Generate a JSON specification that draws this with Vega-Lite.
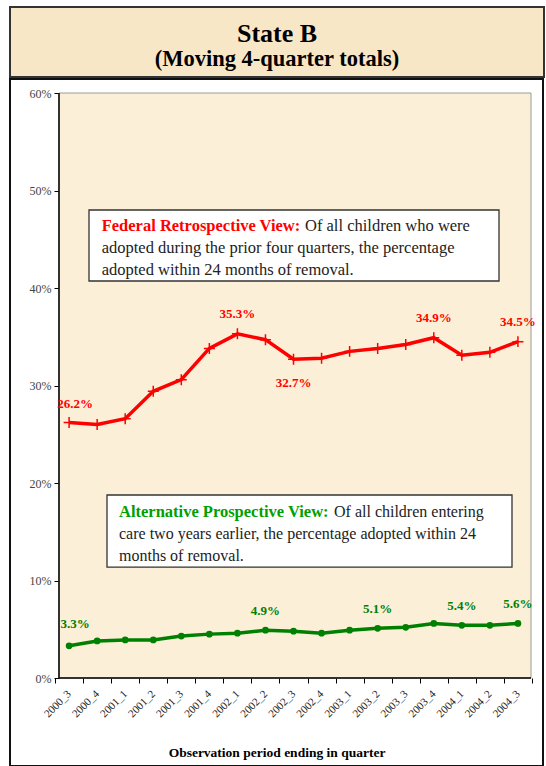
{
  "$schema": "https://vega.github.io/schema/vega-lite/v6.json",
  "background": "white",
  "padding": {"left": 4, "top": 6, "right": 0, "bottom": 0},
  "spacing": 0,
  "config": {"view": {"stroke": null}, "font": "Liberation Serif", "concat": {"spacing": 0}},
  "datasets": {
    "series": [
      {"q": "2000_3", "federal": 0.262, "alternative": 0.033},
      {"q": "2000_4", "federal": 0.260, "alternative": 0.038},
      {"q": "2001_1", "federal": 0.266, "alternative": 0.039},
      {"q": "2001_2", "federal": 0.294, "alternative": 0.039},
      {"q": "2001_3", "federal": 0.306, "alternative": 0.043},
      {"q": "2001_4", "federal": 0.338, "alternative": 0.045},
      {"q": "2002_1", "federal": 0.353, "alternative": 0.046},
      {"q": "2002_2", "federal": 0.347, "alternative": 0.049},
      {"q": "2002_3", "federal": 0.327, "alternative": 0.048},
      {"q": "2002_4", "federal": 0.328, "alternative": 0.046},
      {"q": "2003_1", "federal": 0.335, "alternative": 0.049},
      {"q": "2003_2", "federal": 0.338, "alternative": 0.051},
      {"q": "2003_3", "federal": 0.342, "alternative": 0.052},
      {"q": "2003_4", "federal": 0.349, "alternative": 0.056},
      {"q": "2004_1", "federal": 0.331, "alternative": 0.054},
      {"q": "2004_2", "federal": 0.334, "alternative": 0.054},
      {"q": "2004_3", "federal": 0.345, "alternative": 0.056}
    ]
  },
  "vconcat": [
    {
      "width": 534,
      "height": 70,
      "view": {"fill": "#F8E7C6", "stroke": "#333333", "strokeWidth": 2},
      "data": {"values": [{"title": "State B", "subtitle": "(Moving 4-quarter totals)"}]},
      "layer": [
        {
          "mark": {"type": "text", "font": "Liberation Serif", "fontSize": 26, "fontWeight": "bold", "baseline": "alphabetic", "dy": 0, "color": "#000000"},
          "encoding": {"text": {"field": "title"}}
        },
        {
          "mark": {"type": "text", "font": "Liberation Serif", "fontSize": 22.5, "fontWeight": "bold", "baseline": "alphabetic", "dy": 24, "color": "#000000"},
          "encoding": {"text": {"field": "subtitle"}}
        }
      ]
    },
    {
      "width": 533,
      "height": 687,
      "view": {"fill": "white", "stroke": "#111111", "strokeWidth": 2},
      "resolve": {"scale": {"x": "independent"}, "axis": {"x": "independent"}},
      "layer": [
        {
          "data": {"values": [{}]},
          "layer": [
            {
              "mark": {"type": "rect", "fill": "#FBEFD8", "stroke": "#9A9A9A", "strokeWidth": 1},
              "encoding": {
                "x": {"datum": -0.5, "type": "quantitative", "scale": {"domain": [-2.26483, 16.9322], "nice": false, "zero": false}, "axis": null},
                "x2": {"datum": 16.5},
                "y": {"datum": 0, "type": "quantitative", "scale": {"domain": [-0.090256, 0.614359], "nice": false, "zero": false}},
                "y2": {"datum": 0.6}
              }
            },
            {
              "mark": {"type": "rule", "color": "#000000", "strokeWidth": 1.5},
              "encoding": {
                "x": {"datum": -0.5, "type": "quantitative", "scale": {"domain": [-2.26483, 16.9322], "nice": false, "zero": false}, "axis": null},
                "y": {"datum": 0, "type": "quantitative", "scale": {"domain": [-0.090256, 0.614359], "nice": false, "zero": false}},
                "y2": {"datum": 0.6}
              }
            },
            {
              "mark": {"type": "rule", "color": "#000000", "strokeWidth": 1.5},
              "encoding": {
                "x": {"datum": -0.5, "type": "quantitative", "scale": {"domain": [-2.26483, 16.9322], "nice": false, "zero": false}, "axis": null},
                "x2": {"datum": 16.5},
                "y": {"datum": 0, "type": "quantitative", "scale": {"domain": [-0.090256, 0.614359], "nice": false, "zero": false}}
              }
            },
            {
              "mark": {"type": "rect", "fill": "white", "stroke": "#333333", "strokeWidth": 1.3},
              "encoding": {
                "x": {"datum": 0.5805, "type": "quantitative", "scale": {"domain": [-2.26483, 16.9322], "nice": false, "zero": false}, "axis": null},
                "x2": {"datum": 15.3475},
                "y": {"datum": 0.4072, "type": "quantitative", "scale": {"domain": [-0.090256, 0.614359], "nice": false, "zero": false}},
                "y2": {"datum": 0.48}
              }
            },
            {
              "mark": {"type": "rect", "fill": "white", "stroke": "#333333", "strokeWidth": 1.3},
              "encoding": {
                "x": {"datum": 1.2288, "type": "quantitative", "scale": {"domain": [-2.26483, 16.9322], "nice": false, "zero": false}, "axis": null},
                "x2": {"datum": 15.8157},
                "y": {"datum": 0.1138, "type": "quantitative", "scale": {"domain": [-0.090256, 0.614359], "nice": false, "zero": false}},
                "y2": {"datum": 0.1877}
              }
            },
            {
              "mark": {"type": "text", "align": "left", "baseline": "alphabetic", "font": "Liberation Serif", "fontSize": 16.5, "fontWeight": "bold", "color": "#FF0000"},
              "encoding": {
                "x": {"datum": 1.0379, "type": "quantitative", "scale": {"domain": [-2.26483, 16.9322], "nice": false, "zero": false}, "axis": null},
                "y": {"datum": 0.4588, "type": "quantitative", "scale": {"domain": [-0.090256, 0.614359], "nice": false, "zero": false}},
                "text": {"value": "Federal Retrospective View:"}
              }
            },
            {
              "mark": {"type": "text", "align": "left", "baseline": "alphabetic", "font": "Liberation Serif", "fontSize": 16.5, "color": "#222222"},
              "encoding": {
                "x": {"datum": 8.3602, "type": "quantitative", "scale": {"domain": [-2.26483, 16.9322], "nice": false, "zero": false}, "axis": null},
                "y": {"datum": 0.4588, "type": "quantitative", "scale": {"domain": [-0.090256, 0.614359], "nice": false, "zero": false}},
                "text": {"value": "Of all children who were"}
              }
            },
            {
              "mark": {"type": "text", "align": "left", "baseline": "alphabetic", "font": "Liberation Serif", "fontSize": 16.5, "color": "#222222"},
              "encoding": {
                "x": {"datum": 1.0379, "type": "quantitative", "scale": {"domain": [-2.26483, 16.9322], "nice": false, "zero": false}, "axis": null},
                "y": {"datum": 0.4356, "type": "quantitative", "scale": {"domain": [-0.090256, 0.614359], "nice": false, "zero": false}},
                "text": {"value": "adopted during the prior four quarters, the percentage"}
              }
            },
            {
              "mark": {"type": "text", "align": "left", "baseline": "alphabetic", "font": "Liberation Serif", "fontSize": 16.5, "color": "#222222"},
              "encoding": {
                "x": {"datum": 1.0379, "type": "quantitative", "scale": {"domain": [-2.26483, 16.9322], "nice": false, "zero": false}, "axis": null},
                "y": {"datum": 0.4133, "type": "quantitative", "scale": {"domain": [-0.090256, 0.614359], "nice": false, "zero": false}},
                "text": {"value": "adopted within 24 months of removal."}
              }
            },
            {
              "mark": {"type": "text", "align": "left", "baseline": "alphabetic", "font": "Liberation Serif", "fontSize": 16.5, "fontWeight": "bold", "color": "#00A000"},
              "encoding": {
                "x": {"datum": 1.661, "type": "quantitative", "scale": {"domain": [-2.26483, 16.9322], "nice": false, "zero": false}, "axis": null},
                "y": {"datum": 0.1648, "type": "quantitative", "scale": {"domain": [-0.090256, 0.614359], "nice": false, "zero": false}},
                "text": {"value": "Alternative Prospective View:"}
              }
            },
            {
              "mark": {"type": "text", "align": "left", "baseline": "alphabetic", "font": "Liberation Serif", "fontSize": 16, "color": "#222222"},
              "encoding": {
                "x": {"datum": 9.4047, "type": "quantitative", "scale": {"domain": [-2.26483, 16.9322], "nice": false, "zero": false}, "axis": null},
                "y": {"datum": 0.1648, "type": "quantitative", "scale": {"domain": [-0.090256, 0.614359], "nice": false, "zero": false}},
                "text": {"value": "Of all children entering"}
              }
            },
            {
              "mark": {"type": "text", "align": "left", "baseline": "alphabetic", "font": "Liberation Serif", "fontSize": 16, "color": "#222222"},
              "encoding": {
                "x": {"datum": 1.661, "type": "quantitative", "scale": {"domain": [-2.26483, 16.9322], "nice": false, "zero": false}, "axis": null},
                "y": {"datum": 0.1423, "type": "quantitative", "scale": {"domain": [-0.090256, 0.614359], "nice": false, "zero": false}},
                "text": {"value": "care two years earlier, the percentage adopted within 24"}
              }
            },
            {
              "mark": {"type": "text", "align": "left", "baseline": "alphabetic", "font": "Liberation Serif", "fontSize": 16, "color": "#222222"},
              "encoding": {
                "x": {"datum": 1.661, "type": "quantitative", "scale": {"domain": [-2.26483, 16.9322], "nice": false, "zero": false}, "axis": null},
                "y": {"datum": 0.1203, "type": "quantitative", "scale": {"domain": [-0.090256, 0.614359], "nice": false, "zero": false}},
                "text": {"value": "months of removal."}
              }
            }
          ]
        },
        {
          "data": {"name": "series"},
          "encoding": {
            "x": {
              "field": "q",
              "type": "ordinal",
              "sort": null,
              "scale": {"type": "band", "paddingInner": 0, "paddingOuter": 1.09852, "align": 0.80328},
              "axis": {
                "orient": "bottom",
                "offset": -88,
                "domain": false,
                "grid": false,
                "tickBand": "extent",
                "tickSize": 5,
                "tickColor": "#000000",
                "tickWidth": 1,
                "labelAngle": -45,
                "labelAlign": "right",
                "labelBaseline": "middle",
                "labelPadding": 9,
                "labelOffset": 0,
                "labelFont": "Liberation Serif",
                "labelFontSize": 11,
                "labelColor": "#222222",
                "title": "Observation period ending in quarter",
                "titleFont": "Liberation Serif",
                "titleFontSize": 13.5,
                "titleFontWeight": "bold",
                "titleColor": "#000000",
                "titlePadding": 27
              }
            }
          },
          "layer": [
            {
              "mark": {"type": "line", "color": "#FF0000", "strokeWidth": 3.5},
              "encoding": {
                "y": {
                  "field": "federal",
                  "type": "quantitative",
                  "scale": {"domain": [-0.090256, 0.614359], "nice": false, "zero": false},
                  "axis": {
                    "orient": "left",
                    "offset": -49,
                    "domain": false,
                    "grid": false,
                    "values": [0, 0.1, 0.2, 0.3, 0.4, 0.5, 0.6],
                    "format": ".0%",
                    "tickSize": 5,
                    "tickColor": "#000000",
                    "labelFont": "Liberation Serif",
                    "labelFontSize": 12,
                    "labelColor": "#444444",
                    "labelPadding": 3,
                    "title": null
                  }
                }
              }
            },
            {
              "mark": {"type": "point", "shape": "M-1,0H1M0,-1V1", "size": 120, "filled": false, "strokeWidth": 1.5, "color": "#FF0000", "opacity": 1},
              "encoding": {"y": {"field": "federal", "type": "quantitative"}}
            },
            {
              "mark": {"type": "line", "color": "#008000", "strokeWidth": 3.5},
              "encoding": {"y": {"field": "alternative", "type": "quantitative"}}
            },
            {
              "mark": {"type": "point", "shape": "circle", "size": 45, "filled": true, "color": "#008000", "opacity": 1},
              "encoding": {"y": {"field": "alternative", "type": "quantitative"}}
            },
            {
              "transform": [{"filter": "indexof(['2002_1','2003_4','2004_3'], datum.q) >= 0"}],
              "mark": {"type": "text", "font": "Liberation Serif", "fontSize": 13, "fontWeight": "bold", "color": "#FF0000", "baseline": "middle", "dy": -20},
              "encoding": {"y": {"field": "federal", "type": "quantitative"}, "text": {"field": "federal", "format": ".1%"}}
            },
            {
              "transform": [{"filter": "datum.q == '2000_3'"}],
              "mark": {"type": "text", "font": "Liberation Serif", "fontSize": 13, "fontWeight": "bold", "color": "#FF0000", "baseline": "middle", "dy": -19, "dx": 6},
              "encoding": {"y": {"field": "federal", "type": "quantitative"}, "text": {"field": "federal", "format": ".1%"}}
            },
            {
              "transform": [{"filter": "datum.q == '2002_3'"}],
              "mark": {"type": "text", "font": "Liberation Serif", "fontSize": 13, "fontWeight": "bold", "color": "#FF0000", "baseline": "middle", "dy": 24},
              "encoding": {"y": {"field": "federal", "type": "quantitative"}, "text": {"field": "federal", "format": ".1%"}}
            },
            {
              "transform": [{"filter": "indexof(['2002_2','2003_2','2004_1','2004_3'], datum.q) >= 0"}],
              "mark": {"type": "text", "font": "Liberation Serif", "fontSize": 13, "fontWeight": "bold", "color": "#008000", "baseline": "middle", "dy": -19},
              "encoding": {"y": {"field": "alternative", "type": "quantitative"}, "text": {"field": "alternative", "format": ".1%"}}
            },
            {
              "transform": [{"filter": "datum.q == '2000_3'"}],
              "mark": {"type": "text", "font": "Liberation Serif", "fontSize": 13, "fontWeight": "bold", "color": "#008000", "baseline": "middle", "dy": -22, "dx": 6},
              "encoding": {"y": {"field": "alternative", "type": "quantitative"}, "text": {"field": "alternative", "format": ".1%"}}
            }
          ]
        }
      ]
    }
  ]
}
